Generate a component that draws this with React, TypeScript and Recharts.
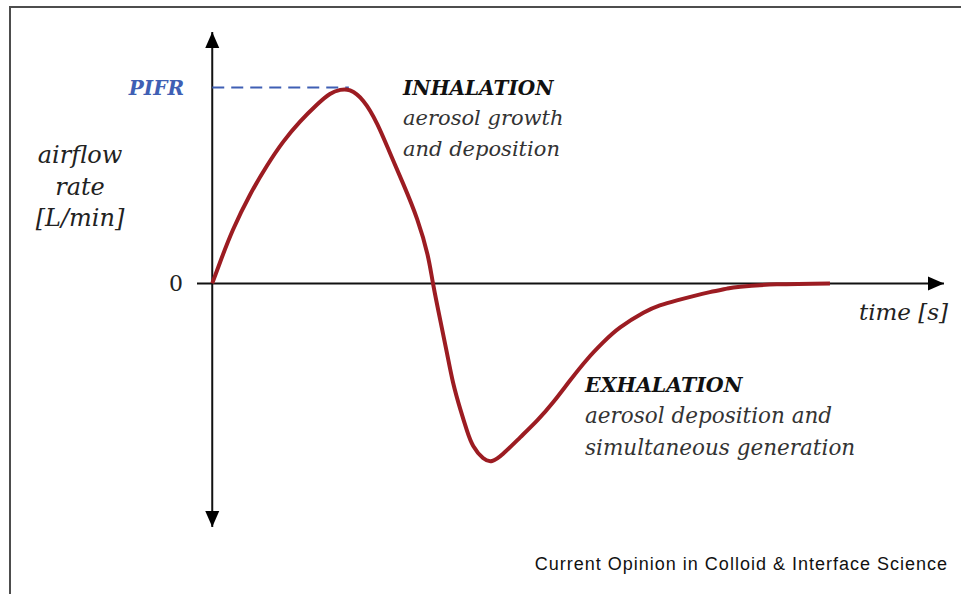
import React from "react"
import { LineChart, Line, XAxis, YAxis, ReferenceLine, ReferenceDot } from "recharts"

// time [s] (arbitrary units)
const times = [
  0, 0.13, 0.34, 0.62, 0.9, 1.16, 1.44, 1.72, 1.93, 2.1, 2.26, 2.48, 2.71, 2.92, 3.13, 3.36, 3.53,
  3.62, 3.74, 3.85, 3.95, 4.07, 4.18, 4.28, 4.44, 4.59, 4.77, 5.05, 5.33, 5.59, 5.87, 6.15, 6.41,
  6.69, 7.07, 7.34, 7.62, 7.89, 8.16, 8.44, 8.66, 9.26, 10.13,
]
// airflow rate, PIFR = 100
const airflow = [
  0, 11, 27.5, 45.5, 60.5, 72.5, 83, 91.8, 97.2, 99.3, 99, 93.5, 81.5, 66.5, 51.2, 33, 14.8, 0, -19,
  -35.9, -51, -64.8, -75.8, -83.4, -89.6, -91.1, -87.4, -79, -70.3, -61, -49.7, -38.9, -30.3,
  -22.6, -15.1, -11.3, -8.7, -6.5, -4.5, -2.7, -1.7, -0.5, 0,
]
const PIFR = 100.5
const PIFR_END = 2.24
const X_DOMAIN = [-0.25, 12]
const Y_DOMAIN = [-125, 129]

const data = times.map((t, i) => ({ t, flow: airflow[i] }))

const serif = "'DejaVu Serif', serif"
const RED = "#9c1c22"
const BLUE = "#3f5fb4"

const arrow = (dir: "up" | "down" | "right") => (props: any) => {
  const { cx, cy } = props
  let pts = ""
  if (dir === "up") pts = `${cx},${cy} ${cx - 7},${cy + 16} ${cx + 7},${cy + 16}`
  if (dir === "down") pts = `${cx},${cy} ${cx - 7},${cy - 16} ${cx + 7},${cy - 16}`
  if (dir === "right") pts = `${cx},${cy} ${cx - 16},${cy - 7} ${cx - 16},${cy + 7}`
  return <polygon points={pts} fill="#000" />
}

export default function App() {
  return (
    <div style={{ position: "absolute", left: 0, top: 0, width: 961, height: 594, background: "#fff" }}>
      <LineChart width={961} height={594} data={data} margin={{ top: 32, right: 17, bottom: 67, left: 197 }}>
        <XAxis dataKey="t" type="number" domain={X_DOMAIN} hide />
        <YAxis type="number" domain={Y_DOMAIN} hide />
        <ReferenceLine y={0} stroke="#111" strokeWidth={2} />
        <ReferenceLine x={0} stroke="#111" strokeWidth={2} />
        <ReferenceLine
          segment={[
            { x: 0, y: PIFR },
            { x: PIFR_END, y: PIFR },
          ]}
          stroke={BLUE}
          strokeWidth={2}
          strokeDasharray="12 7"
        />
        <ReferenceDot x={X_DOMAIN[1]} y={0} shape={arrow("right")} />
        <ReferenceDot x={0} y={Y_DOMAIN[1]} shape={arrow("up")} />
        <ReferenceDot x={0} y={Y_DOMAIN[0]} shape={arrow("down")} />
        <Line
          type="natural"
          dataKey="flow"
          stroke={RED}
          strokeWidth={4}
          dot={false}
          isAnimationActive={false}
        />
      </LineChart>
      <svg width={961} height={594} style={{ position: "absolute", left: 0, top: 0, pointerEvents: "none" }}>
        <polyline points="10,594 10,7 961,7" fill="none" stroke="#4d4d4d" strokeWidth={2} />
        <g fontFamily={serif} fontStyle="italic" fontSize={21}>
          <text x={184} y={95} textAnchor="end" fill={BLUE} fontWeight="bold" fontSize={20}>PIFR</text>
          <text x={403} y={95} fill="#111" fontWeight="bold" fontSize={20}>INHALATION</text>
          <text x={403} y={125} fill="#333">aerosol growth</text>
          <text x={403} y={156} fill="#333">and deposition</text>
          <g textAnchor="middle" fill="#222" fontSize={24}>
            <text x={80} y={163}>airflow</text>
            <text x={80} y={195}>rate</text>
            <text x={80} y={226}>[L/min]</text>
          </g>
          <text x={183} y={291} textAnchor="end" fontStyle="normal" fontSize={22} fill="#222">0</text>
          <text x={948} y={320} textAnchor="end" fill="#222" fontSize={23}>time [s]</text>
          <text x={585} y={392} fill="#111" fontWeight="bold" fontSize={20.5}>EXHALATION</text>
          <text x={585} y={423} fill="#333" fontSize={21.5}>aerosol deposition and</text>
          <text x={585} y={455} fill="#333" fontSize={21.5}>simultaneous generation</text>
        </g>
        <text
          x={948}
          y={570}
          textAnchor="end"
          fontFamily="'Liberation Sans', Arial, sans-serif"
          fontSize={18}
          letterSpacing={1}
          fill="#111"
        >
          Current Opinion in Colloid &amp; Interface Science
        </text>
      </svg>
    </div>
  )
}
